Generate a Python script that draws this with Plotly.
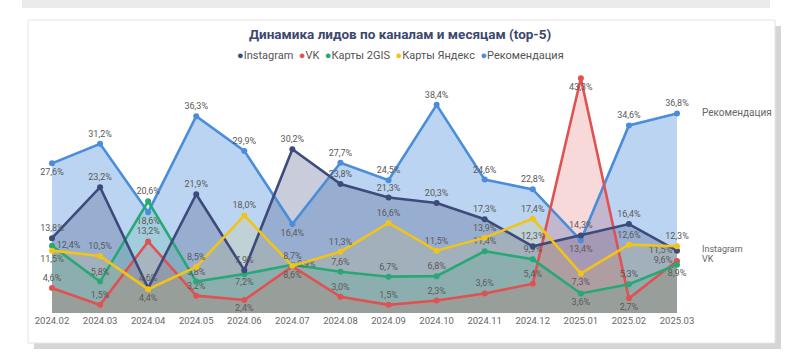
import plotly.graph_objects as go

months = ["2024.02", "2024.03", "2024.04", "2024.05", "2024.06", "2024.07", "2024.08",
          "2024.09", "2024.10", "2024.11", "2024.12", "2025.01", "2025.02", "2025.03"]

instagram = [13.8, 23.2, 4.6, 21.9, 7.9, 30.2, 23.8, 21.3, 20.3, 17.3, 12.3, 14.3, 16.4, 11.5]
vk = [4.6, 1.5, 13.2, 3.2, 2.4, 8.6, 3.0, 1.5, 2.3, 3.6, 5.4, 43.3, 2.7, 9.6]
gis2 = [12.4, 5.8, 20.6, 5.8, 7.2, 8.9, 7.6, 6.7, 6.8, 11.4, 9.9, 3.6, 5.3, 8.9]
yandex = [11.5, 10.5, 4.4, 8.5, 18.0, 8.7, 11.3, 16.6, 11.5, 13.9, 17.4, 7.3, 12.6, 12.3]
recom = [27.6, 31.2, 18.6, 36.3, 29.9, 16.4, 27.7, 24.5, 38.4, 24.6, 22.8, 13.4, 34.6, 36.8]

names = ["Instagram", "VK", "Карты 2GIS", "Карты Яндекс", "Рекомендация"]
colors = ["#3d4b7c", "#e05252", "#27a874", "#f2c318", "#4a8ddb"]

T, B, ML, MR = "top center", "bottom center", "middle left", "middle right"
pos = {
    "Рекомендация": [B, T, B, T, T, B, T, T, T, T, T, B, T, T],
    "Instagram":    [T, T, T, T, T, T, T, T, T, T, T, T, T, ML],
    "VK":           [T, T, T, T, B, B, T, T, T, T, T, B, B, ML],
    "Карты 2GIS":   [MR, T, T, T, B, MR, T, T, T, T, T, B, T, B],
    "Карты Яндекс": [B, T, B, T, T, T, T, T, T, T, T, B, T, T],
}

series = {"Instagram": instagram, "VK": vk, "Карты 2GIS": gis2,
          "Карты Яндекс": yandex, "Рекомендация": recom}
fill_alpha = {"Рекомендация": 0.38, "Instagram": 0.28, "VK": 0.22,
              "Карты Яндекс": 0.12, "Карты 2GIS": 0.16}


def rgba(hexc, a):
    h = hexc.lstrip("#")
    r, g, b = int(h[0:2], 16), int(h[2:4], 16), int(h[4:6], 16)
    return f"rgba({r},{g},{b},{a})"


def fmt(v):
    return f"{v:.1f}%".replace(".", ",")


fig = go.Figure()
fill_order = ["Рекомендация", "Instagram", "VK", "Карты Яндекс", "Карты 2GIS"]
for n in fill_order:
    c = colors[names.index(n)]
    fig.add_trace(go.Scatter(x=months, y=series[n], mode="lines", fill="tozeroy",
                             fillcolor=rgba(c, fill_alpha[n]), line=dict(width=0),
                             showlegend=False, hoverinfo="skip"))
for n in ["Рекомендация", "VK", "Карты 2GIS", "Instagram", "Карты Яндекс"]:
    c = colors[names.index(n)]
    fig.add_trace(go.Scatter(x=months, y=series[n], mode="lines+markers+text",
                             line=dict(color=c, width=2.6), marker=dict(size=6, color=c),
                             text=[fmt(v) for v in series[n]], textposition=pos[n],
                             textfont=dict(size=9, color="#5a5a5a", family="Roboto"),
                             cliponaxis=False, showlegend=False, name=n))

L, R, TOP, BOT = 52, 677, 69, 313


def px(x):
    return (x - L) / (R - L)


def py(y):
    return (BOT - y) / (BOT - TOP)


shapes = [
    dict(type="rect", xref="paper", yref="paper", x0=px(34), x1=px(781), y0=py(349), y1=py(26),
         fillcolor="#d6d6d6", line=dict(width=0), layer="below"),
    dict(type="rect", xref="paper", yref="paper", x0=px(28), x1=px(775), y0=py(343), y1=py(20),
         fillcolor="white", line=dict(color="#e4e4e4", width=1), layer="below"),
    dict(type="rect", xref="paper", yref="paper", x0=px(22), x1=px(770), y0=py(8), y1=py(-2),
         fillcolor="#ebebeb", line=dict(width=0), layer="below"),
]

legend_txt = "  ".join(
    f"<span style='color:{c}'>●</span>{n}" for n, c in zip(names, colors))

annotations = [
    dict(text="<b>Динамика лидов по каналам и месяцам (top-5)</b>", xref="paper", yref="paper",
         x=px(400), y=py(34), showarrow=False, xanchor="center", yanchor="middle",
         font=dict(size=13.5, color="#3c4870", family="Roboto")),
    dict(text=legend_txt, xref="paper", yref="paper", x=px(400), y=py(55), showarrow=False,
         xanchor="center", yanchor="middle", font=dict(size=11, color="#555555", family="Roboto")),
    dict(text="Рекомендация", xref="paper", yref="paper", x=px(700), y=py(112), showarrow=False,
         xanchor="left", yanchor="middle", font=dict(size=10, color="#666666", family="Roboto")),
    dict(text="Instagram", xref="paper", yref="paper", x=px(700), y=py(249), showarrow=False,
         xanchor="left", yanchor="middle", font=dict(size=9, color="#666666", family="Roboto")),
    dict(text="VK", xref="paper", yref="paper", x=px(700), y=py(259), showarrow=False,
         xanchor="left", yanchor="middle", font=dict(size=9, color="#666666", family="Roboto")),
]

fig.update_layout(
    width=800, height=357,
    margin=dict(l=L, r=800 - R, t=TOP, b=357 - BOT),
    paper_bgcolor="white", plot_bgcolor="rgba(0,0,0,0)",
    showlegend=False,
    shapes=shapes, annotations=annotations,
    xaxis=dict(type="category", range=[0, 13], showgrid=False, zeroline=False, showline=False,
               ticks="", tickfont=dict(size=9.5, color="#666666", family="Roboto")),
    yaxis=dict(range=[0, 45], visible=False, showgrid=False, zeroline=False),
)

fig.write_html("out.html", config={"displayModeBar": False},
               post_script="document.body.style.margin='0px';document.body.style.overflow='hidden';")
